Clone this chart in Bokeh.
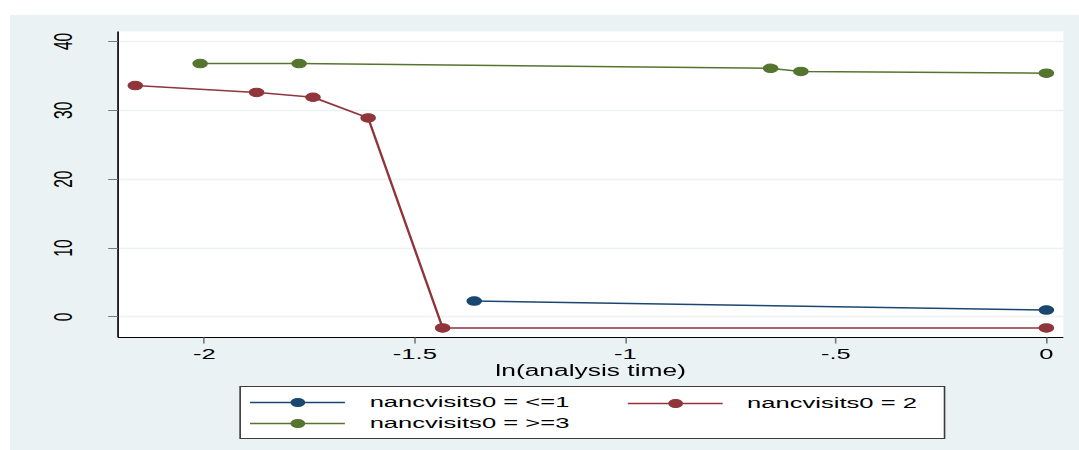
from bokeh.plotting import figure
from bokeh.layouts import column
from bokeh.models import (Range1d, Legend, LegendItem, FixedTicker,
                          InlineStyleSheet)
from bokeh.embed import file_html
from bokeh.resources import INLINE

# Estimates against ln(analysis time), one series per nancvisits0 group
x_le1 = [-1.359, 0.0]
y_le1 = [2.3, 1.0]

x_eq2 = [-2.164, -1.876, -1.742, -1.611, -1.434, 0.0]
y_eq2 = [33.6, 32.6, 31.9, 28.9, -1.6, -1.6]

x_ge3 = [-2.010, -1.775, -0.655, -0.583, 0.0]
y_ge3 = [36.8, 36.8, 36.1, 35.65, 35.4]

series_labels = ["nancvisits0 = <=1", "nancvisits0 = 2", "nancvisits0 = >=3"]
series_colors = ["#1a476f", "#90353b", "#55752f"]

x_ticks = [-2, -1.5, -1, -0.5, 0]
x_tick_labels = ["-2", "-1.5", "-1", "-.5", "0"]
y_ticks = [0, 10, 20, 30, 40]
y_tick_labels = ["0", "10", "20", "30", "40"]
x_title = "ln(analysis time)"

# Drawing surfaces are laid out narrow and stretched sideways to a wide aspect
STRETCH = 1069 / 648
FONT = "Liberation Sans"
BG = "#eaf2f3"
stretch_css = InlineStyleSheet(css=(
    ":host { overflow: visible; }\n"
    f".bk-Canvas {{ transform: scaleX({STRETCH:.5f}); transform-origin: 0 0; "
    f"background-color: {BG}; }}"))

series = list(zip((x_le1, x_eq2, x_ge3), (y_le1, y_eq2, y_ge3), series_colors))

# ---------------- main plot ----------------
p = figure(width=648, height=371, output_backend="svg", toolbar_location=None,
           x_range=Range1d(-2.205, 0.0403), y_range=Range1d(-2.99, 41.45),
           background_fill_color="white", border_fill_color=BG,
           min_border_left=65, min_border_right=10,
           min_border_top=16, min_border_bottom=49,
           outline_line_color=None)
p.stylesheets = [stretch_css]

p.xgrid.visible = False
p.ygrid.ticker = FixedTicker(ticks=y_ticks)
p.ygrid.grid_line_color = BG
p.ygrid.grid_line_width = 1.5

for ax in (p.xaxis[0], p.yaxis[0]):
    ax.axis_line_color = "black"
    ax.axis_line_width = 1
    ax.major_tick_line_color = "#7a7a7a"
    ax.major_tick_in = 0
    ax.major_tick_out = 6
    ax.minor_tick_line_color = None
    ax.major_label_text_font = FONT
    ax.major_label_text_font_size = "15.5px"
    ax.major_label_text_color = "black"

p.xaxis.ticker = FixedTicker(ticks=x_ticks)
p.xaxis.major_label_overrides = dict(zip(x_ticks, x_tick_labels))
p.xaxis.major_label_standoff = 6
p.xaxis.axis_label = x_title
p.xaxis.axis_label_text_font = FONT
p.xaxis.axis_label_text_font_size = "16px"
p.xaxis.axis_label_text_font_style = "normal"
p.xaxis.axis_label_text_color = "black"
p.xaxis.axis_label_standoff = 0

p.yaxis.ticker = FixedTicker(ticks=y_ticks)
p.yaxis.major_label_overrides = dict(zip(y_ticks, y_tick_labels))
p.yaxis.major_label_orientation = "vertical"
p.yaxis.major_label_standoff = 22

for xs, ys, color in series:
    p.line(xs, ys, line_color=color, line_width=1.5)
    p.scatter(xs, ys, size=8.5, fill_color=color, line_color=color)

# ---------------- legend strip ----------------
# the strip's ranges sit away from the data, so only the legend keys show
lg = figure(width=648, height=64, output_backend="svg", toolbar_location=None,
            x_axis_type=None, y_axis_type=None,
            x_range=Range1d(10, 11), y_range=Range1d(100, 101),
            background_fill_color=BG, border_fill_color=BG,
            min_border_left=65, min_border_right=10,
            min_border_top=0, min_border_bottom=0, outline_line_color=None)
lg.stylesheets = [stretch_css]
lg.grid.visible = False

keys = []
for xs, ys, color in series:
    kl = lg.line(xs, ys, line_color=color, line_width=1.5)
    ks = lg.scatter(xs, ys, size=8.5, fill_color=color, line_color=color)
    keys.append([kl, ks])

key_style = dict(margin=0, spacing=1, glyph_width=58, glyph_height=20,
                 label_height=20, label_standoff=15, label_text_font=FONT,
                 label_text_font_size="15.5px", label_text_color="black")

# framed left column; its label area is widened so the frame spans both columns
leg_left = Legend(items=[LegendItem(label=series_labels[0], renderers=keys[0]),
                         LegendItem(label=series_labels[2], renderers=keys[2])],
                  location=(74, 11.3), padding=5, label_width=343,
                  background_fill_color="white", background_fill_alpha=1.0,
                  border_line_color="#3c3c3c", border_line_width=1,
                  border_line_alpha=1.0, **key_style)
leg_right = Legend(items=[LegendItem(label=series_labels[1], renderers=keys[1])],
                   location=(308.8, 37.3), padding=0,
                   background_fill_alpha=0, border_line_alpha=0, **key_style)
lg.add_layout(leg_left)
lg.add_layout(leg_right)

page = column(p, lg, spacing=0)
page.margin = (15, 0, 0, 10)

open("out.html", "w").write(file_html(page, INLINE))
